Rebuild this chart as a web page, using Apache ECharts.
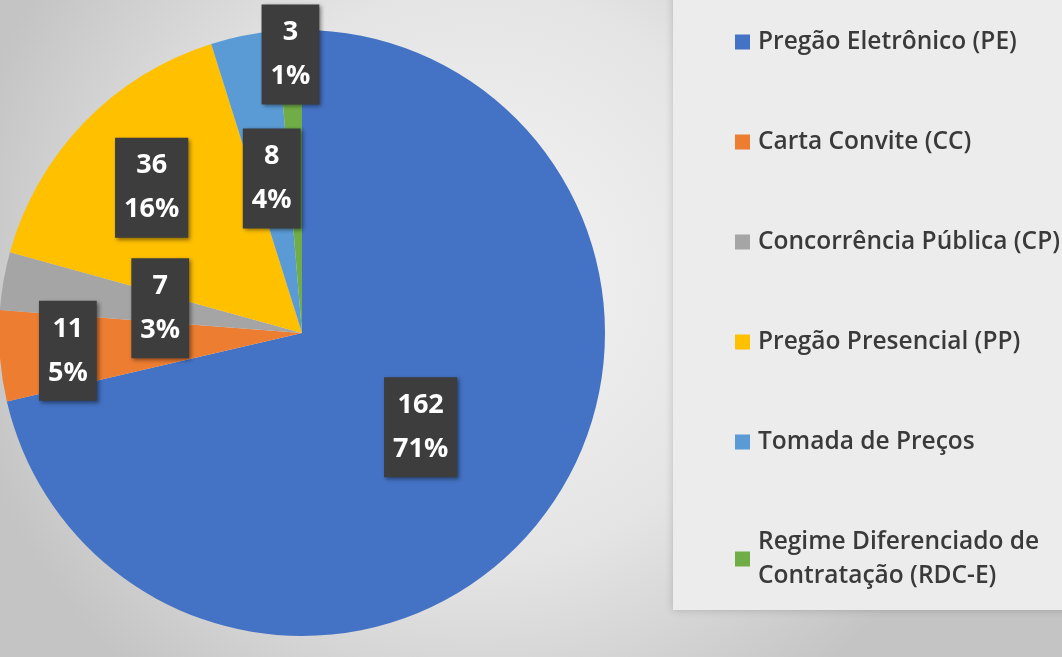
<!DOCTYPE html>
<html><head><meta charset="utf-8">
<script src="https://cdn.jsdelivr.net/npm/echarts@6/dist/echarts.min.js"></script>
<style>html,body{margin:0;padding:0;background:#dcdcdc}#c{width:1062px;height:657px}</style>
</head><body><div id="c"></div>
<script>
const categories = ['Pregão Eletrônico (PE)', 'Carta Convite (CC)', 'Concorrência Pública (CP)', 'Pregão Presencial (PP)', 'Tomada de Preços', 'Regime Diferenciado de Contratação (RDC-E)'];
const values = [162, 11, 7, 36, 8, 3];
const colors = ['#4472C4', '#ED7D31', '#A5A5A5', '#FFC000', '#5B9BD5', '#70AD47'];
// label distance from centre, as a fraction of the radius (Excel "best fit" placement)
const labelRadius = [0.5, 0.775, 0.475, 0.69, 0.52, 0.92];

const CX = 302, CY = 333, R = 303;
const total = values.reduce((a, b) => a + b, 0);

const chart = echarts.init(document.getElementById('c'), null, {renderer: 'canvas'});
chart.setOption({
  backgroundColor: {
    type: 'radial', x: 0.45, y: 0.42, r: 0.8,
    colorStops: [{offset: 0, color: '#f4f4f4'}, {offset: 0.55, color: '#e4e4e4'}, {offset: 1, color: '#c4c4c4'}]
  },
  graphic: [{
    type: 'rect', z: 0,
    shape: {x: 673, y: -10, width: 400, height: 620},
    style: {fill: '#ececec', shadowBlur: 8, shadowColor: 'rgba(0,0,0,0.18)'}
  }],
  legend: {
    orient: 'vertical',
    left: 735, top: 25,
    padding: 0,
    itemGap: 66,
    itemWidth: 15, itemHeight: 15,
    icon: 'rect',
    data: categories,
    formatter: n => n.replace(' de Contratação', ' de\nContratação'),
    textStyle: {fontFamily: 'Open Sans', fontWeight: 600, fontSize: 24.5, lineHeight: 34, color: '#3a3a3a', padding: [0, 0, 0, 3]}
  },
  series: [{
    type: 'pie',
    center: [CX, CY],
    radius: R,
    startAngle: 90,
    clockwise: true,
    avoidLabelOverlap: false,
    percentPrecision: 0,
    animation: false,
    data: categories.map((n, i) => ({name: n, value: values[i], itemStyle: {color: colors[i]}})),
    itemStyle: {borderWidth: 0},
    label: {
      show: true,
      position: 'inside',
      formatter: '{c}\n{d}%',
      fontFamily: 'Open Sans', fontWeight: 'bold', fontSize: 27, lineHeight: 44,
      color: '#ffffff',
      backgroundColor: '#3d3d3d',
      padding: [6, 9, 6, 9],
      align: 'center',
      shadowBlur: 4, shadowColor: 'rgba(0,0,0,0.45)', shadowOffsetX: 2, shadowOffsetY: 2
    },
    labelLine: {show: false},
    emphasis: {disabled: true},
    labelLayout: function (p) {
      const i = p.dataIndex;
      let before = 0;
      for (let k = 0; k < i; k++) before += values[k];
      const mid = (before + values[i] / 2) / total * 2 * Math.PI;
      const rr = R * labelRadius[i];
      return {x: CX + rr * Math.sin(mid), y: CY - rr * Math.cos(mid), align: 'center', verticalAlign: 'middle', hideOverlap: false};
    }
  }]
});
</script></body></html>
